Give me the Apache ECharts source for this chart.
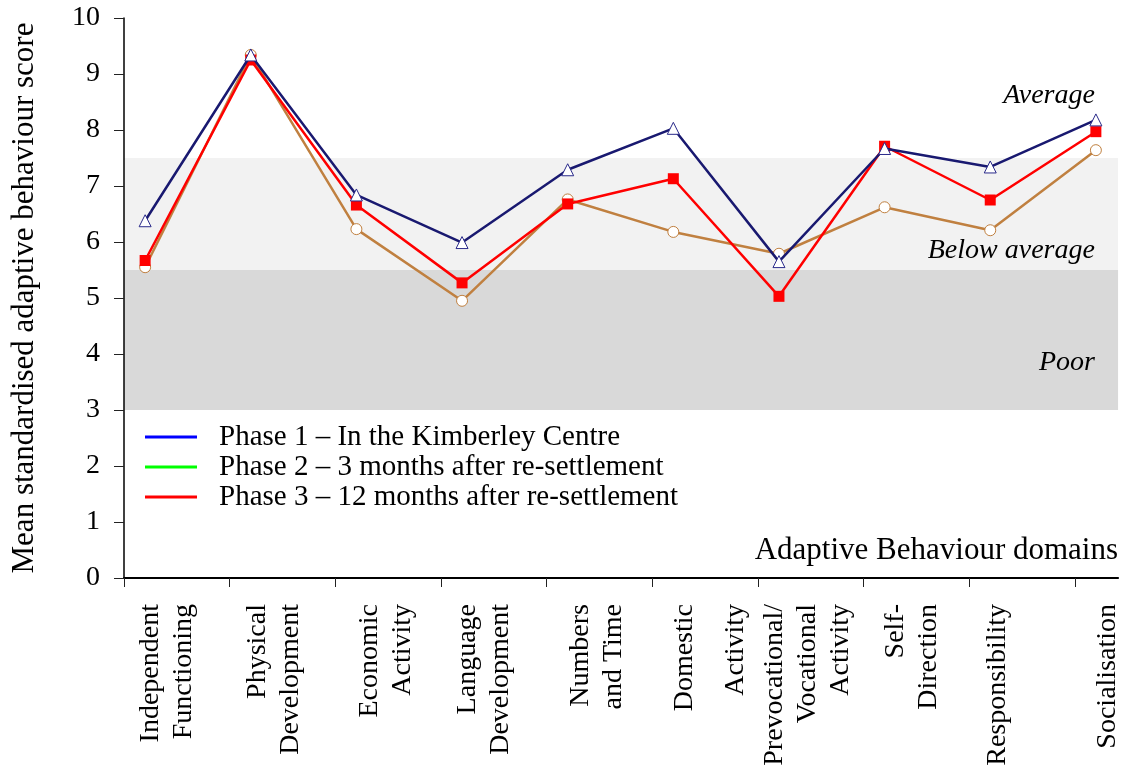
<!DOCTYPE html>
<html>
<head>
<meta charset="utf-8">
<script src="https://cdn.jsdelivr.net/npm/echarts@6/dist/echarts.min.js"></script>
<style>
  html, body { margin: 0; padding: 0; background: #fff; }
  #chart { width: 1124px; height: 778px; }
</style>
</head>
<body>
<div id="chart"></div>
<script>
// ---------------- data ----------------
const domains = [
  'Independent\nFunctioning',
  'Physical\nDevelopment',
  'Economic\nActivity',
  'Language\nDevelopment',
  'Numbers\nand Time',
  'Domestic\nActivity',
  'Prevocational/\nVocational\nActivity',
  'Self-\nDirection',
  'Responsibility',
  'Socialisation'
];
const seriesNames = [
  'Phase 1 – In the Kimberley Centre',
  'Phase 2 – 3 months after re-settlement',
  'Phase 3 – 12 months after re-settlement'
];
const phase1 = [6.38, 9.34, 6.84, 5.99, 7.29, 8.03, 5.65, 7.67, 7.34, 8.18];
const phase2 = [5.55, 9.34, 6.23, 4.95, 6.76, 6.18, 5.79, 6.62, 6.21, 7.64];
const phase3 = [5.67, 9.25, 6.66, 5.27, 6.68, 7.13, 5.03, 7.71, 6.75, 7.97];
const bandPoor = [3, 5.5];
const bandBelow = [5.5, 7.5];
const yTicks = [0, 10, 1]; // min, max, interval
const xAxisTitle = 'Adaptive Behaviour domains';
const yAxisTitle = 'Mean standardised adaptive behaviour score';

// ---------------- layout (not data) ----------------
const tickShift = -0.2;                 // ticks sit left of each point
const labelShift = [0.21, 0.22, 0.28, 0.21, 0.28, 0.35, 0.27, 0.26, 0.07, 0.11];
const extraLineGap = {5: 18};           // wider gap for 'Domestic Activity'
const annotationY = {Average: 8.62, 'Below average': 5.84, Poor: 3.84};
const legendColors = ['#0000ff', '#00ff00', '#ff0000'];

const FONT = "'Liberation Serif', 'Times New Roman', serif";
const FS = 28;

const xy = arr => arr.map((v, i) => [i, v]);
const tickVals = domains.map((d, i) => i + tickShift);
const labelVals = domains.map((d, i) => i + labelShift[i]);

const chart = echarts.init(document.getElementById('chart'), null, {renderer: 'canvas'});

const option = {
  animation: false,
  backgroundColor: '#fff',
  textStyle: {fontFamily: FONT, color: '#000'},
  title: {
    text: xAxisTitle,
    right: 6, top: 535, padding: 0,
    textStyle: {fontFamily: FONT, fontSize: 31, fontWeight: 'normal', color: '#000'}
  },
  grid: {left: 124, right: 4, top: 18, bottom: 200},
  legend: {
    orient: 'vertical',
    left: 140, top: 417,
    itemWidth: 52, itemHeight: 3, itemGap: 0,
    icon: 'rect',
    selectedMode: false,
    textStyle: {fontFamily: FONT, fontSize: 29, lineHeight: 30, color: '#000', padding: [0, 0, 0, 17]},
    data: seriesNames.map((n, i) => ({
      name: n,
      icon: 'rect',
      itemStyle: {color: legendColors[i], borderWidth: 0},
      lineStyle: {color: legendColors[i], width: 3}
    }))
  },
  xAxis: {
    type: 'value',
    min: -0.2, max: 9.21,
    splitLine: {show: false},
    axisLine: {show: true, onZero: false, lineStyle: {color: '#000', width: 2}},
    axisTick: {show: true, customValues: tickVals, length: 9, lineStyle: {color: '#222', width: 1}},
    axisLabel: {
      show: true,
      customValues: labelVals,
      showMinLabel: true, showMaxLabel: true,
      rotate: 90, margin: 26,
      fontFamily: FONT, fontSize: FS, lineHeight: 33, color: '#000',
      formatter: function (v) {
        const i = Math.floor(v + 1e-6);
        const lines = domains[i].split('\n');
        const sep = extraLineGap[i] ? '\n{s| }\n' : '\n';
        return lines.map(l => '{n|' + l + '}').join(sep);
      },
      rich: {
        n: {fontFamily: FONT, fontSize: FS, lineHeight: 33, color: '#000'},
        s: {fontSize: 8, lineHeight: 18}
      }
    }
  },
  yAxis: {
    type: 'value',
    min: yTicks[0], max: yTicks[1], interval: yTicks[2],
    name: yAxisTitle,
    nameLocation: 'middle',
    nameGap: 84,
    nameTextStyle: {fontFamily: FONT, fontSize: 31, color: '#000'},
    splitLine: {show: false},
    axisLine: {show: true, onZero: false, lineStyle: {color: '#000', width: 1.5}},
    axisTick: {show: true, length: 10, lineStyle: {color: '#222', width: 1}},
    axisLabel: {fontFamily: FONT, fontSize: FS, color: '#000', margin: 24}
  },
  series: [
    {
      name: seriesNames[1],
      type: 'line',
      data: xy(phase2),
      z: 3,
      symbol: 'circle', symbolSize: 11,
      lineStyle: {color: '#c08040', width: 2.5},
      itemStyle: {color: '#fff', borderColor: '#c08040', borderWidth: 1},
      emphasis: {disabled: true},
      markArea: {
        silent: true,
        z: 0,
        data: [
          [{yAxis: bandBelow[0], itemStyle: {color: '#f2f2f2'}}, {yAxis: bandBelow[1]}],
          [{yAxis: bandPoor[0], itemStyle: {color: '#d9d9d9'}}, {yAxis: bandPoor[1]}]
        ]
      },
      markPoint: {
        silent: true,
        symbol: 'circle', symbolSize: 0,
        label: {
          show: true, position: 'left', distance: 1,
          fontFamily: FONT, fontSize: FS, fontStyle: 'italic', color: '#000',
          formatter: p => p.name
        },
        data: Object.keys(annotationY).map(k => ({name: k, coord: [domains.length - 1, annotationY[k]]}))
      }
    },
    {
      name: seriesNames[2],
      type: 'line',
      data: xy(phase3),
      z: 4,
      symbol: 'rect', symbolSize: 11,
      lineStyle: {color: '#ff0000', width: 2.5},
      itemStyle: {color: '#ff0000'},
      emphasis: {disabled: true}
    },
    {
      name: seriesNames[0],
      type: 'line',
      data: xy(phase1),
      z: 5,
      symbol: 'triangle', symbolSize: 12,
      lineStyle: {color: '#191970', width: 2.5},
      itemStyle: {color: '#fff', borderColor: '#2a2a8a', borderWidth: 1},
      emphasis: {disabled: true}
    }
  ]
};
chart.setOption(option);
</script>
</body>
</html>
